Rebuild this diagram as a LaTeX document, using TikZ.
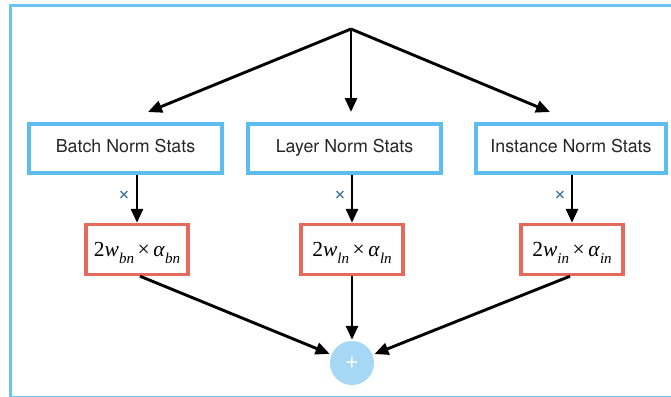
\documentclass[tikz,border=0pt]{standalone}
\usepackage{fontspec}
\setsansfont{TeX Gyre Heros}
\newfontfamily\termfont{Liberation Serif}
\usetikzlibrary{arrows.meta}

\definecolor{frameblue}{HTML}{6CC4F0}
\definecolor{statblue}{HTML}{5DBDEE}
\definecolor{weightred}{HTML}{E66A5C}
\definecolor{sumblue}{HTML}{A6D7F5}
\definecolor{multcol}{HTML}{3F7799}

% weighted term 2 w_x * alpha_x set in a Times-like face
\newcommand{\subidx}[1]{\raisebox{-0.3em}{\fontsize{15}{16}\selectfont\itshape #1}}
\newcommand{\wterm}[1]{{\termfont\fontsize{21.5}{24}\selectfont 2\textit{w}\subidx{#1}\,×\,\textit{α}\subidx{#1}}}

\tikzset{
  statbox/.style={draw=statblue, line width=3.4pt, rectangle, minimum height=49pt,
    text height=0.72em, text depth=0pt,
    font=\sffamily\fontsize{17.8}{20}\selectfont, text=black!85},
  weightbox/.style={draw=weightred, line width=3.4pt, rectangle, minimum width=102pt,
    minimum height=50pt, text height=14.6pt, text depth=0pt},
  conn/.style={line width=2.9pt, -{Triangle[length=14pt,width=12pt]}},
  multlabel/.style={text=multcol, font=\sffamily\fontsize{22}{22}\selectfont},
}

\begin{document}
\begin{tikzpicture}[x=1pt,y=-1pt]
  \useasboundingbox (0,0) rectangle (671,396);
  \clip (0,0) rectangle (671,396);

  % outer frame
  \draw[frameblue, line width=3pt] (10,6) rectangle (682,397);

  % statistics boxes
  \node[statbox, minimum width=193pt] (sB) at (125.5,148.5) {Batch Norm Stats};
  \node[statbox, minimum width=193pt] (sL) at (344.5,148.5) {Layer Norm Stats};
  \node[statbox, minimum width=190pt] (sI) at (571,148.5) {Instance Norm Stats};

  % weighting boxes
  \node[weightbox] (wB) at (137,249.5) {\wterm{bn}};
  \node[weightbox] (wL) at (352,249.5) {\wterm{ln}};
  \node[weightbox] (wI) at (572,249.5) {\wterm{in}};

  % summation node
  \node[circle, fill=sumblue, minimum size=44pt, inner sep=0pt, text=white,
        font=\sffamily\fontsize{24}{24}\selectfont] (sum) at (352,363) {+};

  % fan-out from the common source
  \coordinate (src) at (351,29);
  \coordinate (tB) at (148,112);
  \coordinate (tL) at (351,112);
  \coordinate (tI) at (550,112);
  \draw[conn] (src) -- (tB);
  \draw[conn] (src) -- (tL);
  \draw[conn] (src) -- (tI);

  % stats scaled by weights
  \draw[conn] (sB.south -| wB.north) -- (wB.north);
  \draw[conn] (sL.south -| wL.north) -- (wL.north);
  \draw[conn] (sI.south -| wI.north) -- (wI.north);
  \node[multlabel] (mB) at (124,196) {×};
  \node[multlabel] (mL) at (340,196) {×};
  \node[multlabel] (mI) at (560,196) {×};

  % weighted terms summed
  \draw[conn, shorten >=2pt] ([xshift=3pt]wB.south) -- (sum);
  \draw[conn, shorten >=1pt] (wL.south) -- (sum);
  \draw[conn, shorten >=2pt] ([xshift=-2pt]wI.south) -- (sum);
\end{tikzpicture}
\end{document}
